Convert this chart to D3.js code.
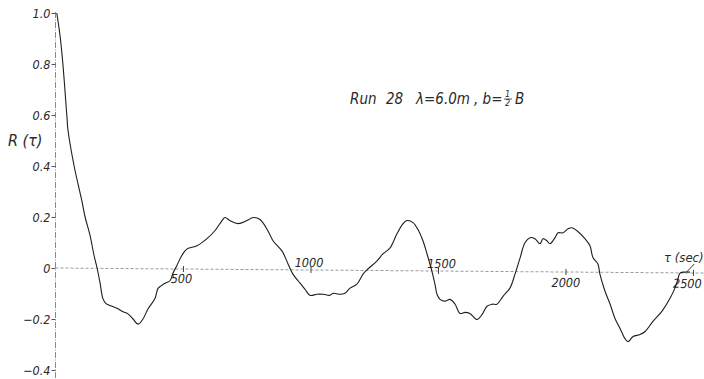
<!DOCTYPE html>
<html>
<head>
<meta charset="utf-8">
<script src="https://cdn.jsdelivr.net/npm/d3@7"></script>
<style>
  html, body { margin: 0; padding: 0; background: #fff; }
  svg { display: block; }
  text { font-family: "DejaVu Sans Condensed", "Liberation Sans Narrow", "DejaVu Sans", sans-serif; font-stretch: condensed; font-style: italic; fill: #2a2a2a; }
</style>
</head>
<body>
<svg id="chart" width="704" height="379"></svg>
<script>
// Autocorrelation R(τ) of run 28, lag τ in seconds
const tau = [5, 18, 29, 45, 49, 73, 104, 116, 135, 151, 163, 175, 186, 198, 222, 245, 261, 284, 304, 324,
  343, 363, 390, 402, 414, 429, 449, 461, 476, 496, 516, 555, 594, 625, 653, 665, 684, 716, 751, 775,
  802, 833, 853, 888, 912, 931, 959, 978, 998, 1025, 1049, 1076, 1088, 1116, 1135, 1155, 1182, 1206, 1225, 1261,
  1284, 1312, 1339, 1363, 1378, 1402, 1422, 1441, 1457, 1476, 1488, 1496, 1508, 1527, 1547, 1567, 1586, 1606, 1625, 1653,
  1673, 1692, 1712, 1731, 1755, 1782, 1802, 1822, 1841, 1861, 1880, 1900, 1912, 1927, 1939, 1959, 1971, 1990, 2010, 2025,
  2045, 2076, 2096, 2108, 2127, 2135, 2155, 2175, 2194, 2214, 2233, 2245, 2265, 2292, 2312, 2343, 2378, 2410, 2429, 2441,
  2449, 2469, 2488];
const R = [1.00, 0.91, 0.80, 0.59, 0.54, 0.40, 0.26, 0.20, 0.13, 0.05, 0.00, -0.06, -0.12, -0.14, -0.15, -0.16, -0.17, -0.18, -0.20, -0.22,
  -0.20, -0.16, -0.12, -0.08, -0.07, -0.06, -0.05, -0.02, 0.01, 0.05, 0.075, 0.087, 0.115, 0.146, 0.186, 0.198, 0.186, 0.174, 0.186, 0.198,
  0.19, 0.146, 0.107, 0.067, 0.016, -0.024, -0.059, -0.083, -0.107, -0.103, -0.103, -0.107, -0.099, -0.103, -0.099, -0.079, -0.063, -0.024, -0.004, 0.028,
  0.055, 0.079, 0.134, 0.174, 0.186, 0.178, 0.15, 0.107, 0.055, -0.012, -0.063, -0.103, -0.123, -0.13, -0.123, -0.142, -0.178, -0.174, -0.178, -0.202,
  -0.182, -0.15, -0.142, -0.142, -0.111, -0.079, -0.024, 0.04, 0.099, 0.119, 0.115, 0.095, 0.115, 0.107, 0.095, 0.119, 0.138, 0.138, 0.154, 0.158,
  0.146, 0.115, 0.087, 0.04, 0.016, -0.024, -0.091, -0.142, -0.198, -0.237, -0.277, -0.289, -0.269, -0.261, -0.249, -0.209, -0.17, -0.119, -0.079, -0.043,
  -0.02, -0.016, -0.016];

const xTicks = [500, 1000, 1500, 2000, 2500];
const xTickLabels = ["500", "1000", "1500", "2000", "2500"];
const yTicks = [-0.4, -0.2, 0, 0.2, 0.4, 0.6, 0.8, 1.0];
const yTickLabels = ["\u22120.4", "\u22120.2", "0", "0.2", "0.4", "0.6", "0.8", "1.0"];

// where each lag label sits relative to its tick (some above the axis, some below)
const xLabelPlacement = {
  500: { dx: -2, dy: 14 },
  1000: { dx: -2, dy: -3 },
  1500: { dx: 3, dy: -3 },
  2000: { dx: 0, dy: 15 },
  2500: { dx: -6, dy: 15 }
};

const svg = d3.select("#chart");
const x = d3.scaleLinear().domain([0, 2500]).range([55.5, 693]);
const y = d3.scaleLinear().domain([-0.4, 1.0]).range([370, 13]);

// vertical axis
const yAxis = svg.append("g").attr("transform", `translate(${x(0)},0)`);
yAxis.append("line")
  .attr("x1", 0).attr("x2", 0)
  .attr("y1", y(1.0) - 1).attr("y2", 379)
  .attr("stroke", "#8a8a8a").attr("stroke-width", 1)
  .attr("stroke-dasharray", "6,1.5,1,1.5");
yAxis.call(d3.axisLeft(y).tickValues(yTicks)
    .tickFormat((d, i) => yTickLabels[i])
    .tickSizeInner(4).tickSizeOuter(0).tickPadding(1))
  .call(g => g.select(".domain").remove())
  .call(g => g.selectAll(".tick line").attr("stroke", "#555"))
  .call(g => g.selectAll(".tick text")
    .attr("font-family", null).attr("font-size", 12.5).attr("fill", "#2a2a2a"));

// horizontal axis, drawn with the slight slope of the plotted baseline
const xAxis = svg.append("g")
  .attr("transform", `translate(0,${y(0)}) rotate(0.45,${x(0)},0)`);
xAxis.append("line")
  .attr("x1", x(0)).attr("x2", 704)
  .attr("y1", 0).attr("y2", 0)
  .attr("stroke", "#9a9a9a").attr("stroke-width", 1)
  .attr("stroke-dasharray", "3,2");
xAxis.call(d3.axisBottom(x).tickValues(xTicks)
    .tickFormat((d, i) => xTickLabels[i])
    .tickSizeInner(0).tickSizeOuter(0))
  .call(g => g.select(".domain").remove())
  .call(g => g.selectAll(".tick line").attr("y1", -3).attr("y2", 3).attr("stroke", "#444"))
  .call(g => g.selectAll(".tick text")
    .attr("font-family", null).attr("font-size", 12.5).attr("fill", "#2a2a2a")
    .attr("dy", null)
    .attr("x", d => xLabelPlacement[d].dx)
    .attr("y", d => xLabelPlacement[d].dy)
    .attr("dominant-baseline", "auto"));

// correlation curve
const line = d3.line()
  .x((d, i) => x(tau[i]))
  .y(d => y(d))
  .curve(d3.curveCatmullRom.alpha(0.5));
svg.append("path")
  .datum(R)
  .attr("d", line)
  .attr("fill", "none")
  .attr("stroke", "#1e1e1e")
  .attr("stroke-width", 1.1)
  .attr("stroke-linejoin", "round");

// axis titles
svg.append("text").attr("x", 8).attr("y", 146).attr("font-size", 16).text("R (\u03C4)");
svg.append("text").attr("x", 664).attr("y", 262).attr("font-size", 13).text("\u03C4 (sec)");
svg.append("line")
  .attr("x1", x(2475)).attr("y1", y(0) + 4)
  .attr("x2", x(2505)).attr("y2", y(0) - 4)
  .attr("stroke", "#333").attr("stroke-width", 1);

// run note
const note = svg.append("g").attr("font-size", 15);
note.append("text").attr("x", 350).attr("y", 104).text("Run");
note.append("text").attr("x", 386).attr("y", 104).text("28");
note.append("text").attr("x", 416).attr("y", 104).text("\u03BB=6.0m");
note.append("text").attr("x", 474).attr("y", 104).text(", b=");
note.append("text").attr("x", 505).attr("y", 97).attr("font-size", 9).text("1");
note.append("line").attr("x1", 504).attr("x2", 512).attr("y1", 99).attr("y2", 99)
  .attr("stroke", "#333").attr("stroke-width", 0.8);
note.append("text").attr("x", 505).attr("y", 106).attr("font-size", 9).text("2");
note.append("text").attr("x", 515).attr("y", 104).text("B");
</script>
</body>
</html>
